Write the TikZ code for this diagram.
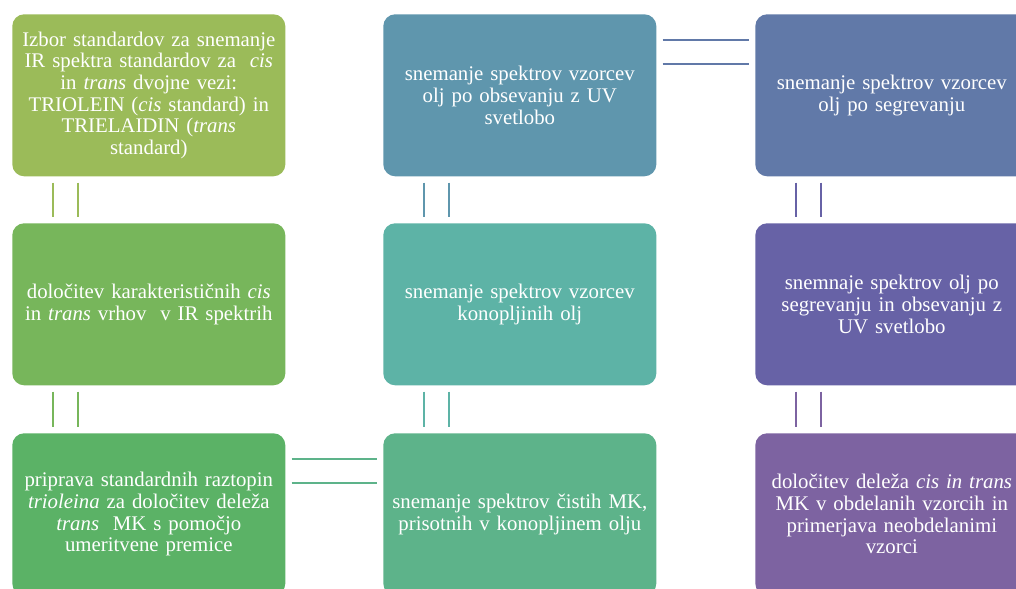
\documentclass[tikz,border=0pt]{standalone}
\usepackage{fontspec}
\setmainfont{Liberation Serif}
\usetikzlibrary{calc}
\definecolor{boxA1}{HTML}{9BBB59}
\definecolor{boxA2}{HTML}{77B65B}
\definecolor{boxA3}{HTML}{5BB266}
\definecolor{boxB1}{HTML}{5F96AD}
\definecolor{boxB2}{HTML}{5DB3A6}
\definecolor{boxB3}{HTML}{5DB38A}
\definecolor{boxC1}{HTML}{6179A8}
\definecolor{boxC2}{HTML}{6762A6}
\definecolor{boxC3}{HTML}{7D63A1}

\tikzset{
  stepbox/.style={rectangle, rounded corners=0.3cm, anchor=north west,
    minimum width=6.825cm, minimum height=4.05cm, text width=6.6cm,
    align=center, text=white, inner sep=0pt,
    font=\fontsize{14.8}{15.4}\selectfont},
  link/.style={line width=1.2pt}
}

\begin{document}
\begin{tikzpicture}[x=0.025cm, y=-0.025cm]
  \useasboundingbox (0,0) rectangle (1016,589);
  \clip (0,0) rectangle (1016,589);

  % Column 1
  \node[stepbox, fill=boxA1] (a1) at (12,14)
    {Izbor standardov za snemanje\\ IR spektra standardov za \ \textit{cis}\\
     in \textit{trans} dvojne vezi:\\ TRIOLEIN (\textit{cis} standard) in\\
     TRIELAIDIN (\textit{trans}\\ standard)};
  \node[stepbox, fill=boxA2] (a2) at (12,223)
    {določitev karakterističnih \textit{cis}\\ in \textit{trans} vrhov\ \ v IR spektrih};
  \node[stepbox, fill=boxA3] (a3) at (12,433)
    {priprava standardnih raztopin\\ \textit{trioleina} za določitev deleža\\
     \textit{trans}\ \ MK s pomočjo\\ umeritvene premice};

  % Column 2
  \node[stepbox, fill=boxB1] (b1) at (383,14)
    {snemanje spektrov vzorcev\\ olj po obsevanju z UV\\ svetlobo};
  \node[stepbox, fill=boxB2] (b2) at (383,223)
    {snemanje spektrov vzorcev\\ konopljinih olj};
  \node[stepbox, fill=boxB3] (b3) at (383,433)
    {snemanje spektrov čistih MK,\\ prisotnih v konopljinem olju};

  % Column 3
  \node[stepbox, fill=boxC1] (c1) at (755,14)
    {snemanje spektrov vzorcev\\ olj po segrevanju};
  \node[stepbox, fill=boxC2] (c2) at (755,223)
    {snemnaje spektrov olj po\\ segrevanju in obsevanju z\\ UV svetlobo};
  \node[stepbox, fill=boxC3] (c3) at (755,433)
    {določitev deleža \textit{cis in trans}\\ MK v obdelanih vzorcih in\\
     primerjava neobdelanimi\\ vzorci};

  % Vertical double links
  \draw[link, boxA1] ($(a1.south west)+(41,6)$) -- ($(a2.north west)+(41,-6)$);
  \draw[link, boxA1] ($(a1.south west)+(66,6)$) -- ($(a2.north west)+(66,-6)$);
  \draw[link, boxA2] ($(a2.south west)+(41,6)$) -- ($(a3.north west)+(41,-6)$);
  \draw[link, boxA2] ($(a2.south west)+(66,6)$) -- ($(a3.north west)+(66,-6)$);
  \draw[link, boxB1] ($(b1.south west)+(41,6)$) -- ($(b2.north west)+(41,-6)$);
  \draw[link, boxB1] ($(b1.south west)+(66,6)$) -- ($(b2.north west)+(66,-6)$);
  \draw[link, boxB2] ($(b2.south west)+(41,6)$) -- ($(b3.north west)+(41,-6)$);
  \draw[link, boxB2] ($(b2.south west)+(66,6)$) -- ($(b3.north west)+(66,-6)$);
  \draw[link, boxC2] ($(c1.south west)+(41,6)$) -- ($(c2.north west)+(41,-6)$);
  \draw[link, boxC2] ($(c1.south west)+(66,6)$) -- ($(c2.north west)+(66,-6)$);
  \draw[link, boxC3] ($(c2.south west)+(41,6)$) -- ($(c3.north west)+(41,-6)$);
  \draw[link, boxC3] ($(c2.south west)+(66,6)$) -- ($(c3.north west)+(66,-6)$);

  % Horizontal double links
  \draw[link, boxC1] ($(b1.north east)+(6,26)$) -- ($(c1.north west)+(-6,26)$);
  \draw[link, boxC1] ($(b1.north east)+(6,50)$) -- ($(c1.north west)+(-6,50)$);
  \draw[link, boxB3] ($(a3.north east)+(6,26)$) -- ($(b3.north west)+(-6,26)$);
  \draw[link, boxB3] ($(a3.north east)+(6,50)$) -- ($(b3.north west)+(-6,50)$);
\end{tikzpicture}
\end{document}
